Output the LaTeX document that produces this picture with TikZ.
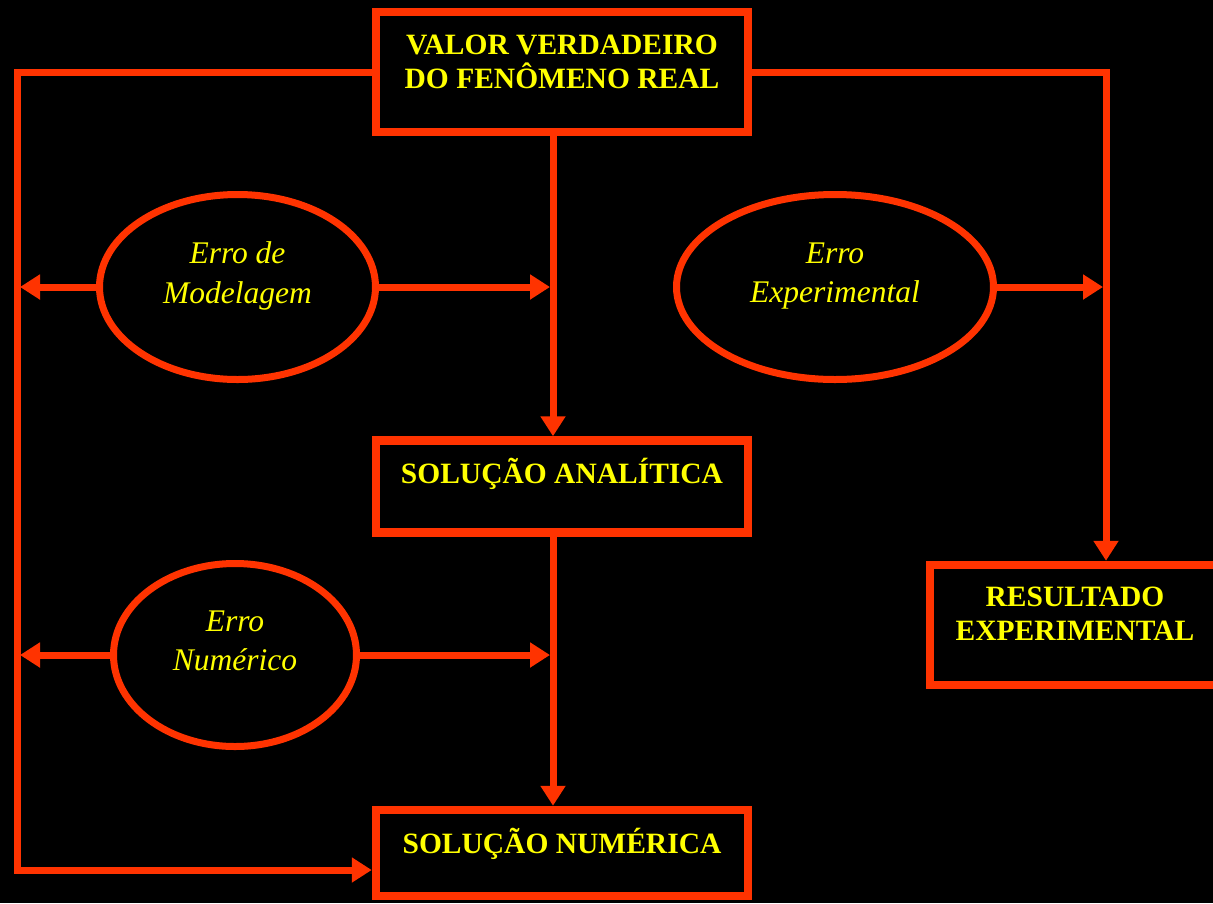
\documentclass[tikz,border=0pt]{standalone}
\usepackage{fontspec}
\setmainfont{Liberation Serif}
\usetikzlibrary{arrows.meta,shapes.geometric}
\definecolor{lred}{HTML}{FF3300}
\definecolor{lyel}{HTML}{FFFF00}
\begin{document}
\begin{tikzpicture}[x=1pt,y=-1pt,
  boxnode/.style={draw=lred, line width=8.5pt, minimum width=372pt, inner sep=0pt},
  ellnode/.style={ellipse, draw=lred, line width=7pt, inner sep=0pt},
  btxt/.style={text=lyel, font=\fontsize{29.5pt}{34pt}\selectfont\bfseries, align=center, inner sep=0pt},
  itxt/.style={text=lyel, font=\fontsize{31.5pt}{39.5pt}\selectfont\itshape, align=center, inner sep=0pt},
  conn/.style={draw=lred, line width=7pt, line join=miter},
  arr/.style={conn, -{Triangle[length=20pt,width=24pt]}}]
\useasboundingbox (0,0) rectangle (1213,903);
\fill[black] (0,0) rectangle (1213,903);
\clip (0,0) rectangle (1213,903);
% helper coordinates
\coordinate (lx) at (17,0);
\coordinate (mx) at (553,0);
\coordinate (rx) at (1106,0);
\coordinate (by) at (0,870);
% boxes
\node[boxnode, minimum height=120pt,
  label={[btxt, yshift=10.5pt]center:{VALOR VERDADEIRO\\DO FENÔMENO REAL}}] (top) at (562,72) {};
\node[boxnode, minimum height=92pt,
  label={[btxt, yshift=13pt]center:{SOLUÇÃO ANALÍTICA}}] (ana) at (562,486.5) {};
\node[boxnode, minimum height=86pt,
  label={[btxt, yshift=9.5pt]center:{SOLUÇÃO NUMÉRICA}}] (num) at (562,853) {};
\node[boxnode, minimum width=290pt, minimum height=120pt,
  label={[btxt, yshift=11pt]center:{RESULTADO\\EXPERIMENTAL}}] (res) at (1075,625) {};
% ellipses
\node[ellnode, minimum width=276pt, minimum height=185pt,
  label={[itxt, yshift=11pt]center:{Erro de\\Modelagem}}] (e1) at (237.5,287) {};
\node[ellnode, minimum width=317pt, minimum height=185pt,
  label={[itxt, yshift=11pt]center:{Erro\\Experimental}}] (e2) at (835,287) {};
\node[ellnode, minimum width=243pt, minimum height=183pt,
  label={[itxt, yshift=14pt]center:{Erro\\Numérico}}] (e3) at (235,655) {};
% connectors
\draw[arr] (top.west) -| (lx |- by) -- (num.west |- by);
\draw[arr] (top.east) -| (rx |- res.north);
\draw[arr] (top.south -| mx) -- (ana.north -| mx);
\draw[arr] (ana.south -| mx) -- (num.north -| mx);
\draw[arr, shorten >=3pt] (e1.west) -- (e1.west -| lx);
\draw[arr, shorten >=3pt] (e1.east) -- (e1.east -| mx);
\draw[arr, shorten >=3pt] (e2.east) -- (e2.east -| rx);
\draw[arr, shorten >=3pt] (e3.west) -- (e3.west -| lx);
\draw[arr, shorten >=3pt] (e3.east) -- (e3.east -| mx);
\end{tikzpicture}
\end{document}
